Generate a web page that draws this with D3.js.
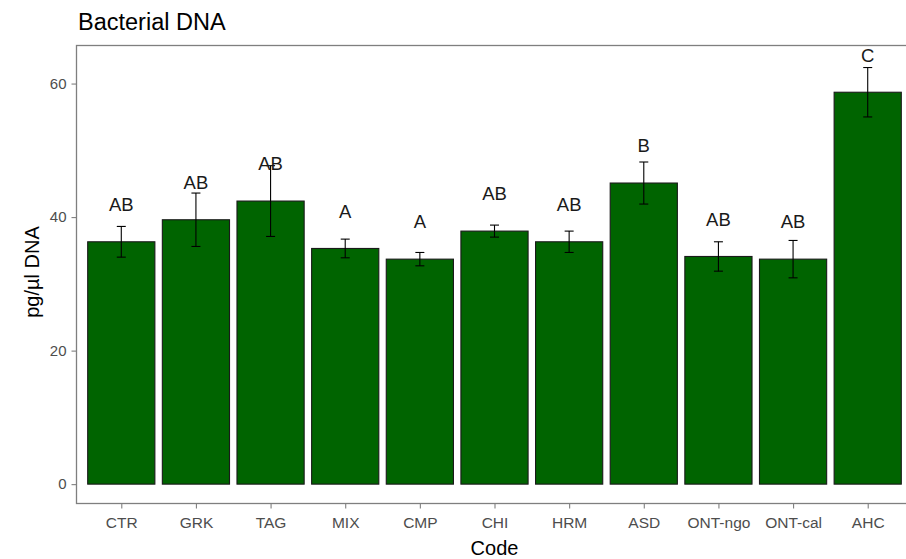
<!DOCTYPE html>
<html><head><meta charset="utf-8">
<script src="https://cdn.jsdelivr.net/npm/d3@7"></script>
<style>body{margin:0;background:#fff}svg{display:block}text{font-family:"Liberation Sans",Arial,sans-serif}</style>
</head><body>
<svg id="c" width="906" height="559"></svg>
<script>
const categories = ["CTR","GRK","TAG","MIX","CMP","CHI","HRM","ASD","ONT-ngo","ONT-cal","AHC"];
const means = [36.3,39.6,42.4,35.3,33.7,37.9,36.3,45.1,34.1,33.7,58.7];
const errors = [2.3,4.0,5.3,1.4,1.0,0.9,1.6,3.15,2.2,2.8,3.7];
const letters = ["AB","AB","AB","A","A","AB","AB","B","AB","AB","C"];
const yTicks = [0,20,40,60];

const svg = d3.select("#c");
const L = 76.5, R = 912.5, T = 45.5, B = 503.5;
const x = d3.scalePoint().domain(categories).range([L, R]).padding(0.6);
const bw = x.step() * 0.9;
const y = d3.scaleLinear().domain([-2.9, 65.7]).range([B, T]);

// bars
svg.append("g").selectAll("rect").data(categories).join("rect")
  .attr("x", d => x(d) - bw/2).attr("width", bw)
  .attr("y", (d,i) => y(means[i])).attr("height", (d,i) => y(0) - y(means[i]))
  .attr("fill", "#006400").attr("stroke", "#1a1a1a").attr("stroke-width", 1.1);

// error bars
const eg = svg.append("g").attr("stroke", "#000").attr("stroke-width", 1.1);
categories.forEach((c,i) => {
  const cx = x(c), hw = 4.5;
  eg.append("line").attr("x1", cx).attr("x2", cx).attr("y1", y(means[i]+errors[i])).attr("y2", y(means[i]-errors[i]));
  eg.append("line").attr("x1", cx-hw).attr("x2", cx+hw).attr("y1", y(means[i]+errors[i])).attr("y2", y(means[i]+errors[i]));
  eg.append("line").attr("x1", cx-hw).attr("x2", cx+hw).attr("y1", y(means[i]-errors[i])).attr("y2", y(means[i]-errors[i]));
});

// letters
svg.append("g").selectAll("text").data(categories).join("text")
  .attr("x", d => x(d))
  .attr("y", (d,i) => y(means[i] + 5.6))
  .attr("dy", "0.36em").attr("text-anchor", "middle")
  .attr("font-size", 18.5).attr("fill", "#1a1a1a")
  .text((d,i) => letters[i]);

// panel border
svg.append("rect").attr("x", L).attr("y", T).attr("width", R - L).attr("height", B - T)
  .attr("fill", "none").attr("stroke", "#7f7f7f").attr("stroke-width", 1.3);

// y axis
const ya = svg.append("g").attr("transform", `translate(${L},0)`)
  .call(d3.axisLeft(y).tickValues(yTicks).tickSize(5).tickPadding(5));
ya.select(".domain").remove();
ya.selectAll("line").attr("stroke", "#7f7f7f").attr("stroke-width", 1.1);
ya.selectAll("text").attr("font-size", 15).attr("fill", "#4d4d4d").attr("font-family", "Liberation Sans, Arial, sans-serif");

// x axis
const xa = svg.append("g").attr("transform", `translate(0,${B})`)
  .call(d3.axisBottom(x).tickSize(5).tickPadding(8));
xa.select(".domain").remove();
xa.selectAll("line").attr("stroke", "#7f7f7f").attr("stroke-width", 1.1);
xa.selectAll("text").attr("font-size", 15.5).attr("fill", "#4d4d4d").attr("font-family", "Liberation Sans, Arial, sans-serif");

// titles
svg.append("text").attr("x", 78).attr("y", 30).attr("font-size", 23.5).attr("fill", "#000").text("Bacterial DNA");
svg.append("text").attr("x", (L + R) / 2).attr("y", 555).attr("text-anchor", "middle").attr("font-size", 20).attr("fill", "#000").text("Code");
svg.append("text").attr("transform", `translate(39,272) rotate(-90)`).attr("text-anchor", "middle").attr("font-size", 20).attr("fill", "#000").text("pg/µl DNA");
</script>
</body></html>
